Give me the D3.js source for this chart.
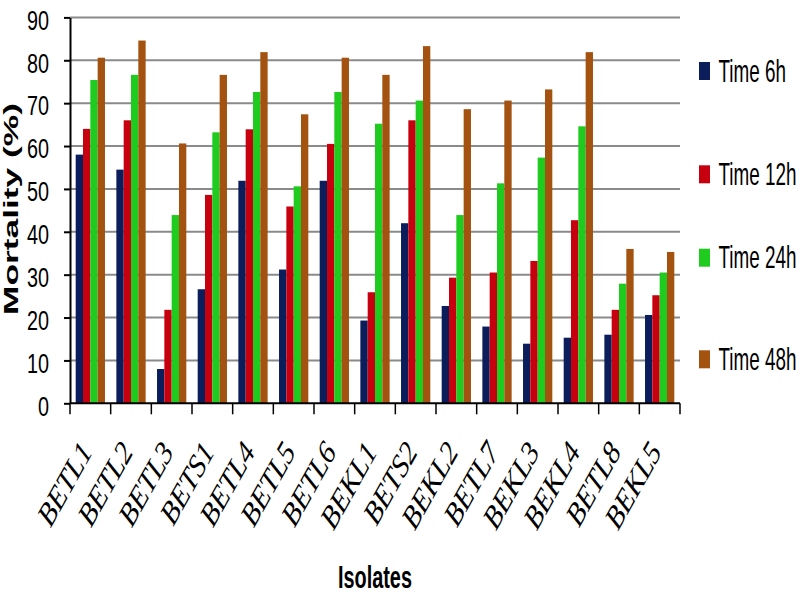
<!DOCTYPE html>
<html>
<head>
<meta charset="utf-8">
<script src="https://cdn.jsdelivr.net/npm/d3@7/dist/d3.min.js"></script>
<style>
  html, body { margin: 0; padding: 0; background: #fff; }
  svg { display: block; }
</style>
</head>
<body>
<svg id="chart" width="800" height="600"></svg>
<script>
// ---- data ----
const categories = ["BETL1","BETL2","BETL3","BETS1","BETL4","BETL5","BETL6","BEKL1","BETS2","BEKL2","BETL7","BEKL3","BEKL4","BETL8","BEKL5"];
const seriesNames = ["Time 6h","Time 12h","Time 24h","Time 48h"];
const time6h  = [58, 54.5, 8, 26.6, 51.9, 31.2, 51.9, 19.3, 42, 22.7, 17.9, 13.9, 15.3, 16, 20.6];
const time12h = [64, 66, 21.8, 48.6, 63.9, 45.9, 60.5, 25.9, 66, 29.3, 30.5, 33.2, 42.7, 21.8, 25.2];
const time24h = [75.4, 76.6, 43.9, 63.2, 72.6, 50.6, 72.6, 65.2, 70.6, 43.9, 51.3, 57.3, 64.6, 27.9, 30.5];
const time48h = [80.6, 84.6, 60.6, 76.6, 81.9, 67.4, 80.6, 76.6, 83.3, 68.6, 70.6, 73.2, 81.9, 36, 35.3];
const yTicks = [0,10,20,30,40,50,60,70,80,90];
const yTitle = "Mortality (%)";
const xTitle = "Isolates";

const seriesValues = [time6h, time12h, time24h, time48h];
const colors = ["#0c1d5c", "#c6000e", "#1ecb1e", "#a3520f"];

// ---- layout ----
const svg = d3.select("#chart");
const mLeft = 70, mRight = 680, mTop = 17.4, mBottom = 403.3;
const squash = 0.62; // horizontal compression of the original figure's text

const x = d3.scaleBand().domain(categories).range([mLeft, mRight])
  .paddingInner(0.28).paddingOuter(0.14);
const xs = d3.scaleBand().domain(seriesNames).range([0, x.bandwidth()]).padding(0);
const y = d3.scaleLinear().domain([0, 90]).range([mBottom, mTop]);
const color = d3.scaleOrdinal().domain(seriesNames).range(colors);

// gridlines
svg.append("g")
  .selectAll("line")
  .data(yTicks.filter(d => d > 0))
  .join("line")
  .attr("x1", mLeft).attr("x2", mRight)
  .attr("y1", d => y(d)).attr("y2", d => y(d))
  .attr("stroke", "#8a8a8a").attr("stroke-width", 2);

// bars
const rows = categories.map((c, i) => ({ cat: c, vals: seriesNames.map((s, j) => ({ s, v: seriesValues[j][i] })) }));
svg.append("g")
  .selectAll("g")
  .data(rows)
  .join("g")
  .attr("transform", d => `translate(${x(d.cat)},0)`)
  .selectAll("rect")
  .data(d => d.vals)
  .join("rect")
  .attr("x", d => xs(d.s))
  .attr("width", xs.bandwidth())
  .attr("y", d => y(d.v))
  .attr("height", d => y(0) - y(d.v))
  .attr("fill", d => color(d.s));

// y axis
const yAxis = svg.append("g")
  .attr("transform", `translate(${mLeft},0)`)
  .call(d3.axisLeft(y).tickValues(yTicks).tickSize(6).tickSizeOuter(0).tickPadding(15));
yAxis.select(".domain").attr("stroke", "#000").attr("stroke-width", 2);
yAxis.selectAll(".tick line").attr("stroke", "#000").attr("stroke-width", 2);
yAxis.selectAll(".tick text")
  .attr("font-family", "'Liberation Sans', Arial, sans-serif")
  .attr("font-size", 28)
  .attr("fill", "#000")
  .attr("dy", "0.42em")
  .attr("textLength", d => String(d).length * 11)
  .attr("lengthAdjust", "spacingAndGlyphs");

// x axis: baseline and boundary ticks
const step = x.step();
const boundaries = categories.map(c => x(c) - step * x.paddingInner() / 2).concat([mRight]);
const xAxisG = svg.append("g");
xAxisG.append("line")
  .attr("x1", mLeft).attr("x2", mRight)
  .attr("y1", y(0)).attr("y2", y(0))
  .attr("stroke", "#000").attr("stroke-width", 2);
xAxisG.selectAll("line.b")
  .data(boundaries)
  .join("line").attr("class", "b")
  .attr("x1", d => d).attr("x2", d => d)
  .attr("y1", y(0)).attr("y2", y(0) + 11)
  .attr("stroke", "#000").attr("stroke-width", 1.5);

// x labels (rotated italic serif, slightly compressed like the source)
xAxisG.selectAll("text.lab")
  .data(categories)
  .join("text").attr("class", "lab")
  .attr("transform", d => `translate(${x(d) + x.bandwidth() / 2 + 3},452) scale(0.8,1) rotate(-55)`)
  .attr("text-anchor", "end")
  .attr("font-family", "'Liberation Serif', 'Times New Roman', serif")
  .attr("font-style", "italic")
  .attr("font-size", 33)
  .attr("fill", "#000")
  .text(d => d);

// axis titles
svg.append("text")
  .attr("transform", `translate(18,209) rotate(-90)`)
  .attr("text-anchor", "middle")
  .attr("font-family", "'Liberation Sans', Arial, sans-serif")
  .attr("font-weight", "bold")
  .attr("font-size", 21)
  .attr("textLength", 212)
  .attr("lengthAdjust", "spacingAndGlyphs")
  .text(yTitle);

svg.append("text")
  .attr("transform", `translate(375,588) scale(${squash},1)`)
  .attr("text-anchor", "middle")
  .attr("font-family", "'Liberation Sans', Arial, sans-serif")
  .attr("font-weight", "bold")
  .attr("font-size", 32)
  .text(xTitle);

// legend
const legendY = [80, 183.3, 266.7, 368.3]; // square bottoms
const lg = svg.append("g").selectAll("g")
  .data(seriesNames)
  .join("g")
  .attr("transform", (d, i) => `translate(699,${legendY[i]})`);
lg.append("rect")
  .attr("x", 0).attr("y", -18).attr("width", 11).attr("height", 18)
  .attr("fill", d => color(d));
lg.append("text")
  .attr("transform", `translate(19.5,1.7) scale(0.59,1)`)
  .attr("font-family", "'Liberation Sans', Arial, sans-serif")
  .attr("font-size", 32)
  .attr("fill", "#000")
  .text(d => d);
</script>
</body>
</html>
